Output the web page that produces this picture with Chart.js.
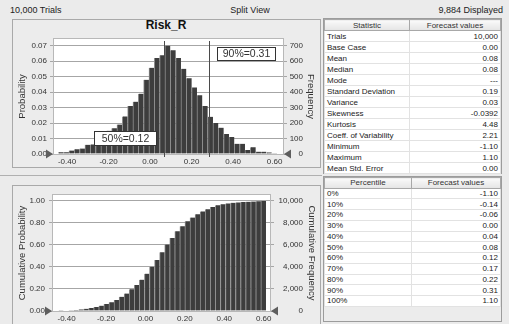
<!DOCTYPE html>
<html>
<head>
<meta charset="utf-8">
<script src="https://cdn.jsdelivr.net/npm/chart.js@4.4.1/dist/chart.umd.min.js"></script>
<style>
*{box-sizing:border-box;}
html,body{margin:0;padding:0;}
body{width:509px;height:324px;overflow:hidden;background:#ebebeb;position:relative;font-family:"Liberation Sans",Arial,sans-serif;color:#222;}
.t{position:absolute;font-size:9px;line-height:11px;white-space:nowrap;color:#222;}
.panel{position:absolute;border:1px solid #a9a9a9;background:#ececec;}
.hline{position:absolute;height:1px;background:#b0b0b0;}
.title{position:absolute;left:12px;width:308px;top:18px;text-align:center;font-weight:bold;font-size:12px;line-height:14px;color:#111;}
canvas{position:absolute;}
.tbox{position:absolute;left:323px;width:179px;border:1px solid #9c9c9c;background:#ececec;}
table{border-collapse:collapse;table-layout:fixed;width:177px;font-size:8px;background:#fff;}
td,th{padding:0 2px;white-space:nowrap;overflow:hidden;border:1px solid #e2e2e2;line-height:9px;}
th{font-weight:normal;background:linear-gradient(#fafafa,#e4e4e4);border:1px solid #a8a8a8;color:#333;text-align:center;}
td.v{text-align:right;}
#stats tr{height:11px;}
#pct tr{height:10.75px;}
#pct tr.h{height:10.5px;}
</style>
</head>
<body>
<div class="t" style="left:10px;top:5px;">10,000 Trials</div>
<div class="t" style="left:220px;width:60px;top:5px;text-align:center;">Split View</div>
<div class="t" style="right:6px;top:5px;">9,884 Displayed</div>

<div class="panel" style="left:12px;top:19px;width:309px;height:149px;"></div>
<div class="hline" style="left:0px;top:175px;width:322px;"></div>
<div class="panel" style="left:12px;top:185px;width:309px;height:140px;"></div>
<div class="title">Risk_R</div>

<canvas id="c1" width="308" height="138" style="left:12px;top:30px;width:308px;height:138px;"></canvas>
<canvas id="c2" width="308" height="136" style="left:12px;top:186px;width:308px;height:136px;"></canvas>

<div class="tbox" style="top:18px;height:156px;"><table id="stats"></table></div>
<div class="tbox" style="top:176px;height:146px;"><table id="pct"></table></div>

<script>
// ---------------- data ----------------
const binCenters = [-0.4292, -0.4035, -0.3778, -0.3521, -0.3264, -0.3007, -0.2750, -0.2493, -0.2236, -0.1979,
  -0.1722, -0.1465, -0.1208, -0.0951, -0.0694, -0.0437, -0.0180, 0.0077, 0.0334, 0.0591,
  0.0848, 0.1105, 0.1362, 0.1619, 0.1876, 0.2133, 0.2390, 0.2647, 0.2904, 0.3161,
  0.3418, 0.3675, 0.3932, 0.4189, 0.4446, 0.4703, 0.4960, 0.5217, 0.5474, 0.5731, 0.5988];
const probability = [0.0011, 0.0011, 0.0022, 0.0030, 0.0035, 0.0060, 0.0062, 0.0090, 0.0120, 0.0150,
  0.0166, 0.0190, 0.0243, 0.0310, 0.0338, 0.0390, 0.0480, 0.0557, 0.0620, 0.0638,
  0.0700, 0.0670, 0.0620, 0.0550, 0.0490, 0.0430, 0.0380, 0.0310, 0.0240, 0.0200,
  0.0170, 0.0130, 0.0110, 0.0066, 0.0066, 0.0026, 0.0044, 0.0015, 0.0015, 0.0010, 0.0005];
const cumulativeProbability = [0.002, 0.004, 0.006, 0.009, 0.014, 0.020, 0.027, 0.036, 0.048, 0.063,
  0.080, 0.100, 0.128, 0.157, 0.196, 0.235, 0.283, 0.337, 0.400, 0.460,
  0.530, 0.600, 0.660, 0.720, 0.765, 0.810, 0.845, 0.875, 0.900, 0.920,
  0.940, 0.955, 0.965, 0.972, 0.977, 0.981, 0.984, 0.987, 0.989, 0.991, 0.993];
const trials = 10000;
const xTickValues = [-0.4, -0.2, 0, 0.2, 0.4, 0.6];
const probTickValues = [0, 0.01, 0.02, 0.03, 0.04, 0.05, 0.06, 0.07];
const freqTickValues = [0, 100, 200, 300, 400, 500, 600, 700];
const cumProbTickValues = [0, 0.2, 0.4, 0.6, 0.8, 1.0];
const cumFreqTickValues = [0, 2000, 4000, 6000, 8000, 10000];
const markerValues = [0.069, 0.286];
const markerLabels = ['50%=0.12', '90%=0.31'];

const statNames = ['Trials','Base Case','Mean','Median','Mode','Standard Deviation','Variance','Skewness','Kurtosis','Coeff. of Variability','Minimum','Maximum','Mean Std. Error'];
const statValues = ['10,000','0.00','0.08','0.08','---','0.19','0.03','-0.0392','4.48','2.21','-1.10','1.10','0.00'];
const percentileNames = ['0%','10%','20%','30%','40%','50%','60%','70%','80%','90%','100%'];
const percentileValues = ['-1.10','-0.14','-0.06','0.00','0.04','0.08','0.12','0.17','0.22','0.31','1.10'];

// ---------------- tables ----------------
function buildTable(id, h1, h2, names, values, w1) {
  const t = document.getElementById(id);
  let html = '<colgroup><col style="width:' + w1 + 'px"><col></colgroup>';
  html += '<tr class="h"><th>' + h1 + '</th><th>' + h2 + '</th></tr>';
  names.forEach((n, i) => { html += '<tr><td>' + n + '</td><td class="v">' + values[i] + '</td></tr>'; });
  t.innerHTML = html;
}
buildTable('stats', 'Statistic', 'Forecast values', statNames, statValues, 85);
buildTable('pct', 'Percentile', 'Forecast values', percentileNames, percentileValues, 87);

// ---------------- charts ----------------
const FONT = '"Liberation Sans", Arial, sans-serif';
Chart.defaults.font.family = FONT;
Chart.defaults.color = '#333';

const decor = {
  id: 'decor',
  beforeDraw(chart) {
    const {ctx, chartArea: a} = chart;
    ctx.save();
    ctx.fillStyle = '#ffffff';
    ctx.fillRect(a.left, a.top, a.right - a.left, a.bottom - a.top);
    ctx.restore();
  },
  afterDatasetsDraw(chart, args, o) {
    const {ctx, chartArea: a} = chart;
    const xs = chart.scales.x;
    ctx.save();
    ctx.lineWidth = 1;
    ctx.strokeStyle = '#b8b8b8';
    ctx.strokeRect(Math.round(a.left) - 0.5, Math.round(a.top) - 0.5, Math.round(a.right - a.left) + 1, Math.round(a.bottom - a.top) + 1);
    (o.markers || []).forEach(v => {
      const x = Math.round(xs.getPixelForValue(v)) + 0.5;
      ctx.strokeStyle = '#4a4a4a';
      ctx.beginPath(); ctx.moveTo(x, a.top + 2); ctx.lineTo(x, a.bottom + 3); ctx.stroke();
    });
    const b = a.bottom;
    ctx.fillStyle = '#5e5e5e';
    ctx.beginPath(); ctx.moveTo(a.left - 8, b - 4.5); ctx.lineTo(a.left - 8, b + 4.5); ctx.lineTo(a.left - 1, b); ctx.closePath(); ctx.fill();
    ctx.beginPath(); ctx.moveTo(a.right + 8, b - 4.5); ctx.lineTo(a.right + 8, b + 4.5); ctx.lineTo(a.right + 1, b); ctx.closePath(); ctx.fill();
    (o.labels || []).forEach(l => {
      const x = a.left + l.x, y = a.top + l.y;
      ctx.fillStyle = '#ffffff'; ctx.fillRect(x, y, l.w, l.h);
      ctx.strokeStyle = '#333'; ctx.strokeRect(x + 0.5, y + 0.5, l.w - 1, l.h - 1);
      ctx.fillStyle = '#333'; ctx.font = '10.5px ' + FONT; ctx.textAlign = 'center'; ctx.textBaseline = 'middle';
      ctx.fillText(l.text, x + l.w / 2, y + l.h / 2 + 0.5);
    });
    ctx.restore();
  },
  afterDraw(chart, args, o) {
    const {ctx, chartArea: a} = chart;
    const cy = (a.top + a.bottom) / 2;
    ctx.save();
    ctx.fillStyle = '#333'; ctx.font = '9.5px ' + FONT; ctx.textAlign = 'center'; ctx.textBaseline = 'middle';
    ctx.translate(o.leftTitleX, cy); ctx.rotate(-Math.PI / 2); ctx.fillText(o.leftTitle, 0, 0);
    ctx.restore();
    ctx.save();
    ctx.fillStyle = '#333'; ctx.font = '9.5px ' + FONT; ctx.textAlign = 'center'; ctx.textBaseline = 'middle';
    ctx.translate(o.rightTitleX, cy); ctx.rotate(Math.PI / 2); ctx.fillText(o.rightTitle, 0, 0);
    ctx.restore();
  }
};

function ticksFrom(arr) { return s => { s.ticks = arr.map(v => ({value: v})); }; }

function makeChart(id, values, cfg) {
  return new Chart(document.getElementById(id), {
    type: 'bar',
    data: {
      datasets: [{
        data: binCenters.map((x, i) => ({x: x, y: values[i]})),
        backgroundColor: '#3d3d3d',
        borderColor: '#8e8e8e',
        borderWidth: {left: 1, right: 0, top: 0, bottom: 0},
        barPercentage: 1,
        categoryPercentage: 1
      }]
    },
    options: {
      responsive: false, animation: false, events: [],
      layout: {padding: {top: 9, right: 17, left: 0, bottom: 0}},
      plugins: {legend: {display: false}, tooltip: {enabled: false}, decor: cfg.decor},
      scales: {
        x: {
          type: 'linear', min: cfg.xmin, max: cfg.xmax, offset: false,
          grid: {display: false, drawTicks: false}, border: {display: false},
          ticks: {font: {size: 8}, padding: 3, color: '#333', maxRotation: 0, autoSkip: false, callback: v => v.toFixed(2)},
          afterBuildTicks: ticksFrom(xTickValues),
          afterFit: s => { s.height = cfg.xh; }
        },
        y: {
          position: 'left', min: 0, max: cfg.ymax,
          grid: {color: '#a6a6a6', tickLength: 4}, border: {display: false},
          ticks: {font: {size: 8}, padding: cfg.ypad, color: '#333', callback: v => v.toFixed(2)},
          afterBuildTicks: ticksFrom(cfg.yTicks),
          afterFit: s => { s.width = cfg.yw; }
        },
        y2: {
          position: 'right', min: 0, max: cfg.ymax * trials,
          grid: {drawOnChartArea: false, color: '#a6a6a6', tickLength: 4}, border: {display: false},
          ticks: {font: {size: 8}, padding: 4, crossAlign: 'far', color: '#333', callback: v => v.toLocaleString('en-US')},
          afterBuildTicks: ticksFrom(cfg.y2Ticks),
          afterFit: s => { s.width = cfg.y2w; }
        }
      }
    },
    plugins: [decor]
  });
}

makeChart('c1', probability, {
  xmin: -0.4627, xmax: 0.6406, xh: 14, ymax: 0.0743, yw: 42, ypad: 3, y2w: 20,
  yTicks: probTickValues, y2Ticks: freqTickValues,
  decor: {
    leftTitle: 'Probability', rightTitle: 'Frequency', leftTitleX: 10, rightTitleX: 299,
    markers: markerValues,
    labels: [
      {text: markerLabels[0], x: 40, y: 92, w: 63, h: 15},
      {text: markerLabels[1], x: 163, y: 8, w: 59, h: 14}
    ]
  }
});

makeChart('c2', cumulativeProbability, {
  xmin: -0.469, xmax: 0.632, xh: 11, ymax: 1.048, yw: 41, ypad: 4, y2w: 33,
  yTicks: cumProbTickValues, y2Ticks: cumFreqTickValues,
  decor: {
    leftTitle: 'Cumulative Probability', rightTitle: 'Cumulative Frequency', leftTitleX: 10, rightTitleX: 300,
    markers: [], labels: []
  }
});
</script>
</body>
</html>
